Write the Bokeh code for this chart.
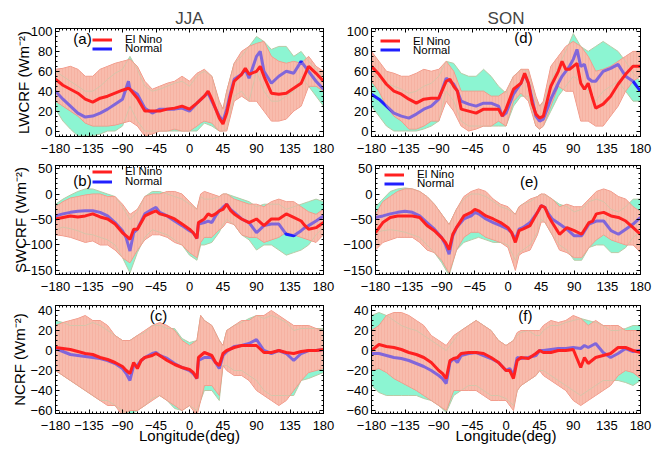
from bokeh.plotting import figure
from bokeh.models import Range1d, FixedTicker, LinearAxis, Label, Legend, LegendItem
from bokeh.layouts import column, row
from bokeh.embed import file_html
from bokeh.resources import INLINE

FONT = "Liberation Sans"
CYAN = "#8cf5d2"
SALMON = "#f8bcae"
HATCH = "#f19a88"
RED = "#ff2020"
BLUE = "#2020ff"
NM_EDGE = "#b9caa6"
EN_EDGE = "#f09484"

lon_ticks = [-180, -135, -90, -45, 0, 45, 90, 135, 180]
band_lon = [-180, -170, -160, -150, -140, -130, -120, -110, -100, -90, -80, -70, -60, -50, -40, -30, -20, -10,
            0, 10, 15, 20, 30, 40, 45, 50,
            60, 70, 80, 90, 100, 110, 120, 130, 140, 150, 160, 170, 180]

# ---------------- (a) JJA LWCRF ----------------
a_lon = [-180, -170, -160, -150, -140, -130, -120, -110, -100, -90, -82, -80, -70, -60, -50, -40, -30, -20, -10, 0,
         10, 20, 25, 30, 40, 45, 50, 55, 60, 70, 75, 80, 90, 95, 100, 110, 120, 130, 140, 150, 160, 170, 180]
a_elnino = [52, 46, 42, 38, 32, 29, 33, 35, 38, 41, 43, 42, 33, 20, 20, 20, 22, 23, 25, 22,
            28, 35, 40, 32, 13, 7, 18, 35, 50, 57, 63, 57, 60, 65, 55, 38, 37, 38, 43, 48, 65, 58, 50]
a_normal = [40, 32, 25, 18, 14, 15, 18, 22, 27, 32, 50, 42, 37, 23, 18, 22, 22, 22, 23, 20,
            28, 35, 38, 30, 15, 10, 22, 38, 52, 57, 62, 53, 75, 80, 60, 48, 55, 60, 58, 70, 60, 50, 42]
a_en_hi = [62, 63, 65, 62, 55, 55, 62, 65, 68, 70, 72, 65, 50, 42, 45, 48, 50, 55,
           50, 58, 60, 62, 55, 30, 22, 40, 68, 80, 85, 88, 90, 75, 70, 68, 70, 68, 75, 65, 60]
a_en_lo = [30, 25, 20, 15, 8, 5, 5, 5, 6, 8, 10, 5, -5, -3, 0, 0, 2, 0,
           0, 5, 8, 10, 8, 0, 0, 0, 30, 35, 30, 30, 20, 10, 10, 12, 20, 25, 45, 45, 40]
a_nm_hi = [60, 55, 50, 45, 40, 40, 45, 52, 58, 62, 75, 62, 45, 40, 42, 45, 48, 50,
           45, 55, 58, 60, 55, 28, 22, 40, 68, 75, 85, 95, 90, 82, 85, 85, 75, 80, 70, 62, 55]
a_nm_lo = [22, 10, 2, -5, -5, -5, -3, 0, 0, 5, 25, 10, 0, 0, 0, 0, 0, 0,
           0, 0, 4, 8, 5, 0, 0, 2, 35, 40, 30, 60, 40, 30, 30, 35, 40, 55, 45, 35, 25]

# ---------------- (d) SON LWCRF ----------------
d_lon = [-180, -170, -160, -150, -140, -130, -120, -110, -100, -90, -80, -75, -70, -65, -60, -50, -40, -30, -20, -10,
         -5, 0, 10, 20, 25, 30, 35, 40, 45, 50, 55, 60, 70, 75, 80, 85, 90, 95, 100, 105, 110, 115, 120,
         130, 140, 150, 160, 170, 180]
d_elnino = [65, 57, 47, 40, 37, 32, 28, 32, 33, 33, 50, 52, 45, 40, 22, 20, 18, 22, 22, 22,
            15, 22, 42, 48, 58, 48, 28, 17, 13, 15, 30, 45, 60, 70, 62, 62, 65, 68, 48, 42, 48, 35, 23,
            27, 35, 47, 57, 65, 65]
d_normal = [37, 32, 25, 18, 15, 13, 17, 22, 25, 32, 53, 50, 47, 40, 30, 27, 25, 28, 28, 25,
            15, 18, 37, 48, 57, 48, 32, 15, 10, 12, 22, 32, 48, 55, 60, 65, 72, 82, 65, 67, 53, 50, 50,
            60, 63, 67, 55, 50, 40]
d_en_hi = [80, 70, 60, 58, 55, 55, 58, 62, 60, 62, 70, 60, 40, 40, 40, 40, 35, 35,
           40, 55, 58, 62, 62, 35, 25, 30, 65, 75, 85, 90, 85, 75, 60, 62, 65, 70, 75, 80, 80]
d_en_lo = [50, 40, 25, 15, 10, 2, 2, 5, 10, 10, 30, 20, 5, 0, 2, 5, 5, 10,
           5, 30, 34, 38, 30, 5, 2, 5, 25, 45, 40, 40, 10, 10, 5, 5, 15, 25, 40, 50, 55]
d_nm_hi = [60, 52, 48, 45, 42, 38, 40, 45, 48, 55, 70, 68, 58, 55, 55, 62, 55, 45,
           38, 55, 58, 62, 60, 30, 25, 28, 50, 65, 80, 98, 85, 80, 85, 90, 85, 80, 70, 58, 50]
d_nm_lo = [25, 15, 5, 0, 0, 0, 0, 2, 5, 10, 40, 30, 10, 5, 5, 5, 5, 5,
           5, 25, 30, 35, 35, 5, 2, 5, 20, 35, 45, 55, 50, 40, 30, 40, 45, 50, 40, 30, 30]

# ---------------- (b) JJA SWCRF ----------------
b_lon = [-180, -170, -160, -150, -140, -130, -120, -110, -100, -90, -85, -80, -75, -70, -60, -50, -45, -40, -30, -20,
         -10, 0, 5, 10, 12, 20, 25, 30, 35, 40, 45, 50, 55, 60, 70, 80, 90, 100, 110, 120, 130, 140, 150, 155,
         160, 170, 180]
b_elnino = [-49, -46, -43, -45, -43, -39, -45, -49, -59, -76, -82, -89, -69, -69, -43, -36, -33, -39, -43, -49,
            -59, -69, -76, -87, -56, -49, -39, -43, -39, -33, -30, -20, -32, -39, -49, -56, -49, -62, -49, -49,
            -39, -46, -53, -62, -69, -66, -56]
b_normal = [-43, -39, -36, -34, -33, -33, -36, -43, -56, -72, -86, -112, -76, -69, -39, -30, -26, -36, -43, -53,
            -62, -72, -76, -87, -59, -56, -53, -56, -43, -33, -26, -20, -30, -36, -49, -56, -76, -62, -59, -59,
            -79, -82, -72, -66, -62, -53, -43]
b_en_hi = [-25, -15, -8, -5, -2, 0, 0, -5, -5, -20, -40, -30, -5, 0, 0, 5, 5, 0,
           -15, -30, 0, 5, 0, -5, 0, 0, -10, -15, -20, -20, -25, -15, -10, -15, -15, -25, -35, -40, -30]
b_en_lo = [-80, -82, -85, -90, -95, -92, -100, -100, -110, -125, -135, -110, -90, -80, -80, -85, -95, -100,
           -115, -125, -95, -85, -85, -70, -65, -55, -60, -80, -85, -85, -95, -90, -85, -75, -80, -85, -90, -95, -80]
b_nm_hi = [-20, -10, -2, 5, 10, 10, 5, 0, -5, -25, -50, -35, -5, 5, 5, 0, -5, -10,
           -20, -30, -5, -10, -10, -5, 0, 0, -5, -10, -15, -25, -20, -20, -20, -30, -25, -20, -15, -10, -15]
b_nm_lo = [-70, -65, -68, -72, -78, -80, -85, -90, -100, -125, -155, -115, -85, -70, -75, -80, -90, -100,
           -120, -130, -100, -100, -95, -75, -60, -50, -60, -80, -90, -110, -100, -100, -110, -120, -115, -110,
           -100, -80, -65]

# ---------------- (e) SON SWCRF ----------------
e_lon = [-180, -170, -160, -150, -140, -130, -120, -110, -100, -90, -85, -80, -75, -70, -60, -50, -45, -40, -30, -20,
         -10, 0, 5, 10, 15, 20, 30, 40, 45, 50, 55, 60, 70, 80, 90, 100, 110, 115, 120, 130, 140, 150, 160, 170, 180]
e_elnino = [-76, -56, -46, -43, -43, -43, -46, -62, -72, -86, -95, -109, -79, -66, -43, -36, -30, -33, -43, -49,
            -56, -66, -76, -95, -72, -69, -62, -36, -23, -26, -43, -56, -79, -66, -72, -79, -56, -53, -39, -36,
            -43, -46, -53, -66, -79]
e_normal = [-46, -43, -39, -36, -34, -36, -43, -56, -69, -86, -99, -118, -82, -66, -49, -43, -36, -39, -49, -56,
            -62, -69, -76, -89, -69, -66, -56, -36, -23, -26, -39, -49, -59, -69, -82, -82, -59, -56, -53, -53,
            -72, -79, -69, -59, -46]
e_en_hi = [-40, -15, -5, 5, 10, 10, 5, -5, -20, -40, -60, -30, -5, 5, 10, 5, -10, -20,
           -25, -40, -25, -20, -10, -5, 0, 0, -10, -25, -20, -25, -25, -10, 5, 10, 5, -5, -10, -25, -35]
e_en_lo = [-110, -95, -90, -85, -85, -85, -95, -110, -115, -130, -155, -110, -85, -75, -75, -85, -90, -95,
           -105, -150, -120, -115, -110, -80, -55, -55, -80, -110, -115, -125, -125, -105, -90, -80, -90, -95,
           -100, -100, -115]
e_nm_hi = [-25, -10, 5, 10, 12, 10, 5, -5, -20, -40, -60, -30, -10, 0, 0, -5, -15, -25,
           -30, -40, -25, -20, -15, -5, 0, -2, -10, -20, -25, -35, -30, -15, -10, -15, -30, -35, -25, -10, -10]
e_nm_lo = [-75, -72, -70, -72, -75, -80, -85, -100, -115, -135, -160, -110, -95, -90, -85, -90, -95, -95,
           -100, -130, -115, -110, -100, -75, -50, -55, -80, -100, -110, -130, -130, -105, -100, -100, -115, -115,
           -105, -85, -75]

# ---------------- (c) JJA NCRF ----------------
c_lon = [-180, -170, -160, -150, -140, -130, -120, -110, -100, -90, -85, -80, -75, -70, -65, -60, -50, -45, -40, -30,
         -20, -10, 0, 5, 10, 12, 20, 30, 35, 40, 45, 50, 60, 70, 80, 90, 100, 110, 120, 130, 140, 150, 160, 170, 180]
c_elnino = [3, 2, 1, -1, -3, -4, -7, -9, -12, -16, -20, -23, -12, -18, -10, -7, -5, -3, -5, -10,
            -14, -17, -19, -22, -28, -7, -2, -5, -12, -15, -3, 0, 3, 5, 5, 5, -2, -2, 0, -2, -3, -1, 0, 0, 1]
c_normal = [2, -1, -4, -5, -6, -7, -8, -10, -13, -18, -23, -30, -15, -15, -10, -7, -3, -2, -5, -8,
            -13, -17, -20, -23, -28, -10, -7, -7, -12, -18, -5, -1, 4, 5, 7, 11, 0, -3, 0, -3, -10, -3, 0, 0, 1]
c_en_hi = [25, 28, 30, 32, 35, 30, 30, 25, 15, 10, 10, 15, 20, 25, 28, 25, 20, 10,
           5, 10, 35, 30, 25, 10, 5, 20, 25, 30, 30, 35, 35, 40, 35, 30, 25, 25, 25, 22, 20]
c_en_lo = [-20, -25, -30, -35, -40, -45, -50, -55, -55, -65, -60, -60, -55, -50, -45, -50, -55, -60,
           -55, -65, -50, -35, -35, -45, -15, -20, -25, -25, -30, -40, -45, -50, -55, -50, -40, -30, -22, -20, -18]
c_nm_hi = [30, 28, 25, 25, 25, 28, 25, 20, 15, 10, 10, 15, 18, 25, 25, 22, 22, 12,
           8, 10, 35, 30, 25, 10, 5, 20, 25, 28, 32, 35, 32, 35, 32, 28, 20, 22, 22, 22, 22]
c_nm_lo = [-20, -25, -30, -35, -40, -45, -50, -50, -55, -60, -65, -60, -55, -48, -45, -50, -58, -60,
           -55, -60, -50, -40, -40, -50, -15, -15, -20, -20, -25, -30, -40, -45, -45, -45, -45, -30, -28, -25, -22]

# ---------------- (f) SON NCRF ----------------
f_lon = [-180, -170, -160, -150, -140, -130, -120, -110, -100, -90, -85, -80, -75, -70, -65, -60, -50, -40, -30, -20,
         -10, 0, 5, 10, 15, 20, 30, 40, 45, 50, 60, 70, 80, 90, 100, 105, 110, 120, 130, 140, 150, 160, 170, 180]
f_elnino = [0, 6, 4, 3, 1, -2, -4, -7, -12, -20, -23, -28, -10, -8, -7, -3, -2, -2, -3, -7,
            -12, -20, -20, -28, -10, -7, -8, -3, 0, -2, -2, 0, 0, 1, -17, -7, -13, -7, -5, -3, 3, 3, 0, -2]
f_normal = [-3, -3, -5, -7, -8, -10, -13, -16, -20, -25, -28, -33, -12, -8, -12, -5, -3, -2, -5, -8,
            -12, -20, -18, -25, -7, -8, -7, -5, 0, 0, 1, 2, 2, 3, 2, 5, 3, 7, -2, -7, -3, 2, -1, 0]
f_en_hi = [20, 25, 35, 38, 38, 35, 30, 25, 15, 10, 5, 15, 20, 25, 30, 25, 20, 10,
           5, 10, 18, 20, 20, 20, 20, 25, 30, 28, 30, 35, 32, 25, 30, 25, 25, 25, 20, 20, 20]
f_en_lo = [-20, -18, -22, -28, -32, -36, -40, -45, -50, -55, -60, -40, -40, -40, -40, -45, -50, -50,
           -50, -60, -40, -35, -30, -25, -20, -25, -30, -35, -40, -50, -55, -50, -45, -40, -35, -25, -20, -22, -28]
f_nm_hi = [35, 38, 35, 30, 25, 22, 20, 15, 10, 5, 0, 10, 20, 25, 30, 25, 20, 10,
           5, 10, 15, 18, 20, 15, 15, 20, 25, 25, 28, 30, 32, 30, 28, 25, 20, 20, 22, 25, 25]
f_nm_lo = [-35, -42, -45, -45, -45, -45, -45, -48, -50, -55, -62, -45, -40, -35, -35, -40, -45, -45,
           -48, -55, -40, -35, -30, -25, -20, -20, -25, -30, -35, -40, -45, -40, -35, -30, -30, -30, -32, -35, -30]

lw_ticks = [0, 20, 40, 60, 80, 100]
sw_ticks = [-150, -100, -50, 0, 50]
nc_ticks = [-60, -40, -20, 0, 20, 40]


def style_axis(ax, labels=True):
    ax.axis_line_color = "black"
    ax.major_tick_in = 4
    ax.major_tick_out = 0
    ax.minor_tick_in = 2
    ax.minor_tick_out = 0
    ax.major_tick_line_color = "black"
    ax.minor_tick_line_color = "black"
    ax.major_label_text_font = FONT
    ax.major_label_text_font_size = "13px"
    ax.major_label_text_color = "black"
    ax.major_label_standoff = 3
    ax.axis_label_text_font = FONT
    ax.axis_label_text_font_size = "15px"
    ax.axis_label_text_font_style = "normal"
    ax.axis_label_text_color = "black"
    if not labels:
        ax.major_label_text_font_size = "0px"
        ax.major_label_text_alpha = 0
        ax.major_label_standoff = 0


def make_panel(width, height, borders, yr, yticks, yminor, lon, en, nm, en_hi, en_lo, nm_hi, nm_lo,
               tag, tag_pos, tag_align, legend_pos=None, title=None, title_offset=0,
               ylabel=None, ylabel_standoff=0, xlabel=None):
    bl, br, bt, bb = borders
    p = figure(width=width, height=height, x_range=Range1d(-180, 180), y_range=Range1d(*yr),
               output_backend="svg", toolbar_location=None,
               min_border_left=bl, min_border_right=br, min_border_top=bt, min_border_bottom=bb)
    p.grid.visible = False
    p.outline_line_color = "black"
    p.outline_line_alpha = 1.0
    p.background_fill_color = "white"
    p.border_fill_color = "white"
    xb = p.below[0]
    yl = p.left[0]

    p.varea(x=band_lon, y1=nm_lo, y2=nm_hi, fill_color=CYAN)
    p.varea(x=band_lon, y1=en_lo, y2=en_hi, fill_color=SALMON,
            hatch_pattern="vertical_line", hatch_color=HATCH, hatch_alpha=0.55, hatch_scale=3, hatch_weight=1)
    p.line(band_lon, nm_hi, line_color=NM_EDGE, line_width=1)
    p.line(band_lon, nm_lo, line_color=NM_EDGE, line_width=1)
    p.line(band_lon, en_hi, line_color=EN_EDGE, line_width=1)
    p.line(band_lon, en_lo, line_color=EN_EDGE, line_width=1)
    r_nm = p.line(lon, nm, line_color=BLUE, line_width=3)
    p.varea(x=band_lon, y1=en_lo, y2=en_hi, fill_color=SALMON, fill_alpha=0.45)
    r_en = p.line(lon, en, line_color=RED, line_width=3)

    xt = FixedTicker(ticks=lon_ticks, minor_ticks=list(range(-180, 181, 5)))
    yt = FixedTicker(ticks=yticks, minor_ticks=yminor)
    xb.ticker = xt
    yl.ticker = yt
    style_axis(xb)
    style_axis(yl)
    xb.major_label_standoff = 7
    top = LinearAxis(ticker=xt)
    style_axis(top, labels=False)
    p.add_layout(top, "above")
    right = LinearAxis(ticker=yt)
    style_axis(right, labels=False)
    p.add_layout(right, "right")

    if ylabel:
        yl.axis_label = ylabel
        yl.axis_label_standoff = ylabel_standoff
    if xlabel:
        xb.axis_label = xlabel
        xb.axis_label_standoff = -6

    if title:
        p.title.text = title
        p.title.text_font = FONT
        p.title.text_font_size = "17px"
        p.title.text_font_style = "normal"
        p.title.align = "center"
        p.title.standoff = 2
        p.title.offset = title_offset

    p.add_layout(Label(x=tag_pos[0], y=tag_pos[1], text=tag, text_font=FONT, text_font_size="15px",
                       text_align=tag_align, text_baseline="middle", text_color="black"))

    if legend_pos:
        vx, vy1, vy2 = legend_pos
        for lab, rend, vy in (("El Nino", r_en, vy1), ("Normal", r_nm, vy2)):
            lg = Legend(items=[LegendItem(label=lab, renderers=[rend])], location=(vx, vy),
                        border_line_color=None, background_fill_alpha=0, padding=0, spacing=0, margin=0,
                        glyph_width=20, glyph_height=9, label_height=9, label_standoff=13,
                        label_text_font=FONT, label_text_font_size="11.5px", label_text_color="black")
            p.add_layout(lg)
    return p


LW_R = (-5.5, 103)
SW_R = (-158, 56)
NC_R = (-63, 45)
lw_minor = list(range(0, 101, 5))
sw_minor = list(range(-150, 51, 10))
nc_minor = list(range(-60, 41, 5))

WL, WR = 340, 319
BL_L, BR_L = 55, 17
BL_R, BR_R = 31, 19
H1, H2, H3 = 156, 139, 152

pa = make_panel(WL, H1, (BL_L, BR_L, 28, 20), LW_R, lw_ticks, lw_minor, a_lon, a_elnino, a_normal,
                a_en_hi, a_en_lo, a_nm_hi, a_nm_lo, "(a)", (-156, 93.3), "left",
                legend_pos=(37, 91, 82), title="JJA", title_offset=6,
                ylabel="LWCRF (Wm\u207b\u00b2)", ylabel_standoff=-4)
pd_ = make_panel(WR, H1, (BL_R, BR_R, 28, 20), LW_R, lw_ticks, lw_minor, d_lon, d_elnino, d_normal,
                 d_en_hi, d_en_lo, d_nm_hi, d_nm_lo, "(d)", (23.4, 93.7), "center",
                 legend_pos=(9, 89.5, 80.5), title="SON", title_offset=-6)
pb = make_panel(WL, H2, (BL_L, BR_L, 9, 21), SW_R, sw_ticks, sw_minor, b_lon, b_elnino, b_normal,
                b_en_hi, b_en_lo, b_nm_hi, b_nm_lo, "(b)", (-156, 26.5), "left",
                legend_pos=(37, 97, 87), ylabel="SWCRF (Wm\u207b\u00b2)", ylabel_standoff=-9)
pe = make_panel(WR, H2, (BL_R, BR_R, 9, 21), SW_R, sw_ticks, sw_minor, e_lon, e_elnino, e_normal,
                e_en_hi, e_en_lo, e_nm_hi, e_nm_lo, "(e)", (28.8, 24.6), "center",
                legend_pos=(9, 94, 85))
pc = make_panel(WL, H3, (BL_L, BR_L, 10, 34), NC_R, nc_ticks, nc_minor, c_lon, c_elnino, c_normal,
                c_en_hi, c_en_lo, c_nm_hi, c_nm_lo, "(c)", (-41.6, 35), "center",
                ylabel="NCRF (Wm\u207b\u00b2)", ylabel_standoff=-1, xlabel="Longitude(deg)")
pf = make_panel(WR, H3, (BL_R, BR_R, 10, 34), NC_R, nc_ticks, nc_minor, f_lon, f_elnino, f_normal,
                f_en_hi, f_en_lo, f_nm_hi, f_nm_lo, "(f)", (26, 35), "center",
                xlabel="Longitude(deg)")

layout = column(row(pa, pd_), row(pb, pe), row(pc, pf))
open("out.html", "w").write(file_html(layout, INLINE))
